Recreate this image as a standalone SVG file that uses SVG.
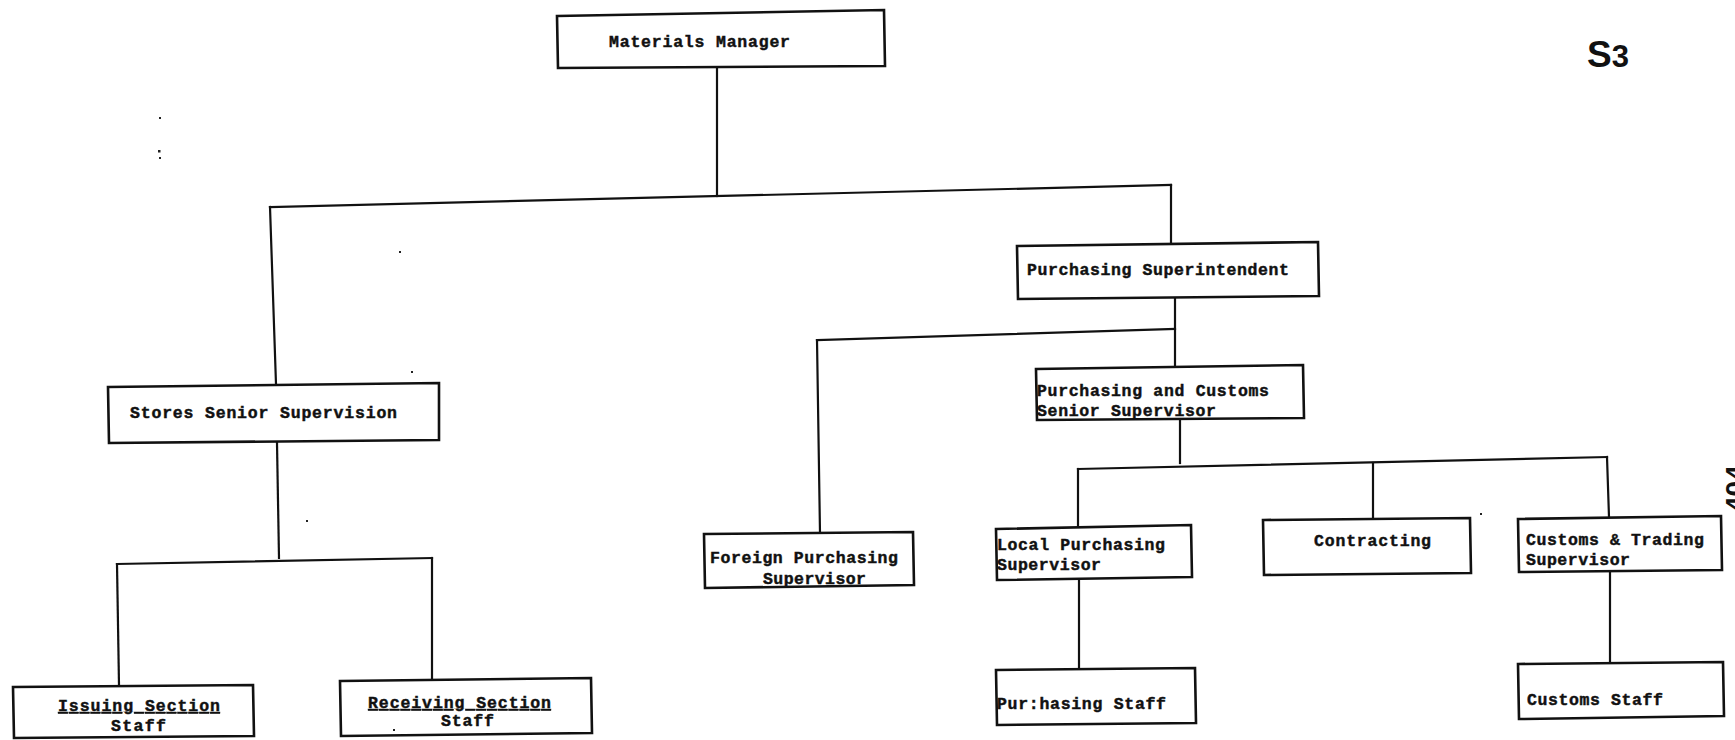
<svg xmlns="http://www.w3.org/2000/svg" width="1735" height="740" viewBox="0 0 1735 740">
  <style>
    .box { fill: #fff; stroke: #111; stroke-width: 2.6; }
    .ln { fill: none; stroke: #111; stroke-width: 2.2; stroke-linecap: square; }
    .t { font-family: "Liberation Mono", "DejaVu Sans Mono", monospace; font-weight: bold; font-size: 16.5px; fill: #111; stroke: #111; stroke-width: 0.45; }
    .u { text-decoration: underline; }
    .dot { fill: #222; }
  </style>
  <rect width="1735" height="740" fill="#fff"/>

  <!-- reporting lines -->
  <g id="connectors">
    <path class="ln" d="M717 67 L717 196"/>
    <path class="ln" d="M270 207 L1171 185"/>
    <path class="ln" d="M270 207 L276 384"/>
    <path class="ln" d="M1171 185 L1171 243"/>
    <path class="ln" d="M1175 299 L1175 366"/>
    <path class="ln" d="M817 340 L1175 329"/>
    <path class="ln" d="M817 340 L820 533"/>
    <path class="ln" d="M1180 420 L1180 463"/>
    <path class="ln" d="M1078 469 L1607 457"/>
    <path class="ln" d="M1078 469 L1078 526"/>
    <path class="ln" d="M1373 463 L1373 518"/>
    <path class="ln" d="M1607 457 L1609 517"/>
    <path class="ln" d="M1079 580 L1079 668"/>
    <path class="ln" d="M1610 572 L1610 662"/>
    <path class="ln" d="M277 443 L279 558"/>
    <path class="ln" d="M117 564 L432 558"/>
    <path class="ln" d="M117 564 L119 685"/>
    <path class="ln" d="M432 558 L432 679"/>
  </g>

  <g id="materials-manager">
    <path class="box" d="M557 16 L884 10 L885 66 L558 68 Z"/>
    <text class="t" x="609" y="47" textLength="181" lengthAdjust="spacing">Materials Manager</text>
  </g>

  <g id="purchasing-superintendent">
    <path class="box" d="M1017 246 L1318 242 L1319 296 L1018 299 Z"/>
    <text class="t" x="1027" y="275" textLength="262" lengthAdjust="spacing">Purchasing Superintendent</text>
  </g>

  <g id="stores-senior-supervision">
    <path class="box" d="M108 387 L439 383 L439 440 L109 443 Z"/>
    <text class="t" x="130" y="418" textLength="267" lengthAdjust="spacing">Stores Senior Supervision</text>
  </g>

  <g id="purchasing-customs-senior-supervisor">
    <path class="box" d="M1036 369 L1303 365 L1304 418 L1037 420 Z"/>
    <text class="t" x="1037" y="396" textLength="232" lengthAdjust="spacing">Purchasing and Customs</text>
    <text class="t" x="1037" y="416" textLength="179" lengthAdjust="spacing">Senior Supervisor</text>
  </g>

  <g id="foreign-purchasing-supervisor">
    <path class="box" d="M704 534 L913 532 L914 585 L705 588 Z"/>
    <text class="t" x="710" y="563" textLength="188" lengthAdjust="spacing">Foreign Purchasing</text>
    <text class="t" x="763" y="584" textLength="103" lengthAdjust="spacing">Supervisor</text>
  </g>

  <g id="local-purchasing-supervisor">
    <path class="box" d="M996 529 L1191 525 L1192 577 L997 580 Z"/>
    <text class="t" x="997" y="550" textLength="168" lengthAdjust="spacing">Local Purchasing</text>
    <text class="t" x="997" y="570" textLength="104" lengthAdjust="spacing">Supervisor</text>
  </g>

  <g id="contracting">
    <path class="box" d="M1263 520 L1470 518 L1471 573 L1264 575 Z"/>
    <text class="t" x="1314" y="546" textLength="117" lengthAdjust="spacing">Contracting</text>
  </g>

  <g id="customs-trading-supervisor">
    <path class="box" d="M1518 519 L1721 516 L1722 570 L1519 572 Z"/>
    <text class="t" x="1526" y="545" textLength="178" lengthAdjust="spacing">Customs &amp; Trading</text>
    <text class="t" x="1526" y="565" textLength="104" lengthAdjust="spacing">Supervisor</text>
  </g>

  <g id="purchasing-staff">
    <path class="box" d="M996 670 L1195 668 L1196 723 L997 725 Z"/>
    <text class="t" x="997" y="709" textLength="169" lengthAdjust="spacing">Pur:hasing Staff</text>
  </g>

  <g id="customs-staff">
    <path class="box" d="M1518 664 L1723 662 L1724 716 L1519 719 Z"/>
    <text class="t" x="1527" y="705" textLength="136" lengthAdjust="spacing">Customs Staff</text>
  </g>

  <g id="issuing-section-staff">
    <path class="box" d="M13 687 L253 685 L254 736 L14 738 Z"/>
    <text class="t u" x="58" y="711" textLength="162" lengthAdjust="spacing">Issuing Section</text>
    <text class="t" x="111" y="731" textLength="55" lengthAdjust="spacing">Staff</text>
  </g>

  <g id="receiving-section-staff">
    <path class="box" d="M340 681 L591 678 L592 733 L341 736 Z"/>
    <text class="t u" x="368" y="708" textLength="183" lengthAdjust="spacing">Receiving Section</text>
    <text class="t" x="441" y="726" textLength="53" lengthAdjust="spacing">Staff</text>
  </g>

  <!-- sheet reference -->
  <text x="1587" y="67" font-family="'Liberation Sans', Arial, sans-serif" font-weight="bold" font-size="37" fill="#111">S<tspan font-size="31">3</tspan></text>
  <text transform="translate(1745 512) rotate(-90)" font-family="'Liberation Sans', Arial, sans-serif" font-weight="bold" font-size="28" fill="#111">404</text>

  <!-- specks on the sheet -->
  <g id="specks">
    <rect class="dot" x="159" y="117" width="2" height="2"/>
    <rect class="dot" x="158" y="150" width="2.5" height="2.5"/>
    <rect class="dot" x="159" y="157" width="2" height="2"/>
    <rect class="dot" x="399" y="251" width="2" height="2"/>
    <rect class="dot" x="411" y="371" width="2" height="2"/>
    <rect class="dot" x="306" y="520" width="2" height="2"/>
    <rect class="dot" x="1480" y="513" width="2" height="2"/>
    <rect class="dot" x="393" y="729" width="2" height="2"/>
  </g>
</svg>
